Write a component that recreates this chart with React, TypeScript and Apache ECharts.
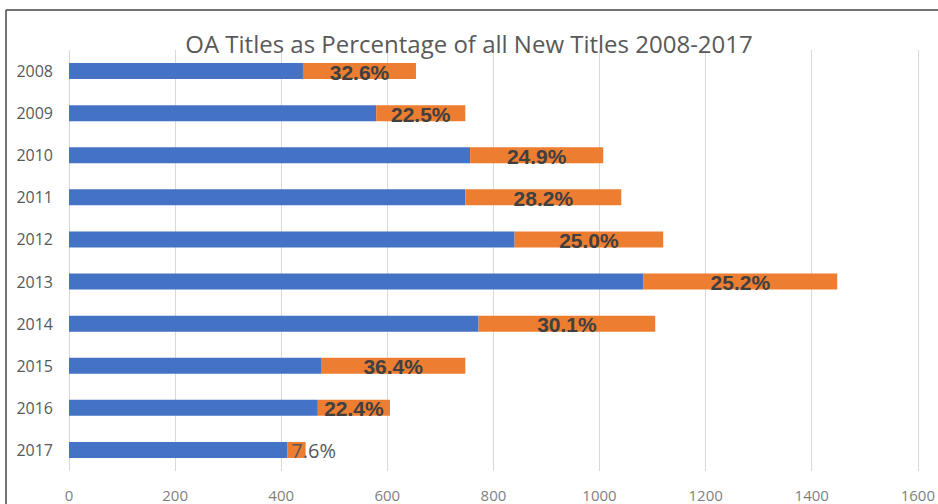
import React, { useEffect, useRef } from "react";
import * as echarts from "echarts";

const years = ["2008", "2009", "2010", "2011", "2012", "2013", "2014", "2015", "2016", "2017"];
const otherTitles = [441, 579, 756, 747, 840, 1083, 772, 475, 469, 412];
const oaTitles = [213, 168, 251, 294, 280, 365, 333, 272, 136, 34];
const oaShare = ["32.6%", "22.5%", "24.9%", "28.2%", "25.0%", "25.2%", "30.1%", "36.4%", "22.4%", "7.6%"];
const titleText = "OA Titles as Percentage of all New Titles 2008-2017";

export default function App() {
  const ref = useRef<HTMLDivElement>(null);
  useEffect(() => {
    if (!ref.current) return;
    const chart = echarts.init(ref.current, null, { renderer: "svg" });
    chart.setOption({
      animation: false,
      backgroundColor: "#ffffff",
      title: {
        text: titleText,
        left: "center",
        top: 26,
        textStyle: { fontFamily: "Open Sans", fontSize: 24, fontWeight: "normal", color: "#595959" },
      },
      grid: { left: 69, right: 18, top: 50, bottom: 33 },
      xAxis: {
        type: "value",
        min: 0,
        max: 1600,
        interval: 200,
        axisLine: { show: false },
        axisTick: { show: false },
        splitLine: { lineStyle: { color: "#d9d9d9", width: 1 } },
        axisLabel: {
          fontFamily: "Open Sans",
          fontSize: 15,
          color: "#7f7f7f",
          margin: 16,
          formatter: (v: number) => String(v),
        },
      },
      yAxis: {
        type: "category",
        data: years,
        inverse: true,
        axisLine: { show: false },
        axisTick: { show: false },
        axisLabel: { fontFamily: "Open Sans", fontSize: 16, color: "#595959", margin: 16 },
      },
      series: [
        {
          type: "bar",
          stack: "t",
          data: otherTitles,
          barWidth: 16,
          itemStyle: { color: "#4472C4" },
        },
        {
          type: "bar",
          stack: "t",
          barWidth: 16,
          data: oaTitles.map((v, i) =>
            i === oaTitles.length - 1
              ? { value: v, label: { offset: [17, 1], fontWeight: "normal", color: "#595959", fontFamily: "Open Sans", fontSize: 20 } }
              : v
          ),
          itemStyle: { color: "#ED7D31" },
          label: {
            show: true,
            position: "inside",
            formatter: (p: any) => oaShare[p.dataIndex],
            fontFamily: "Liberation Sans",
            fontWeight: "bold",
            fontSize: 21,
            color: "#404040",
            offset: [0, 1],
          },
        },
      ],
      graphic: [
        { type: "line", shape: { x1: 6, y1: 10, x2: 938, y2: 10 }, style: { stroke: "#444", lineWidth: 1.5 } },
        { type: "line", shape: { x1: 6, y1: 10, x2: 6, y2: 504 }, style: { stroke: "#444", lineWidth: 1.5 } },
      ],
    });
    return () => chart.dispose();
  }, []);
  return (
    <div style={{ position: "fixed", left: 0, top: 0, width: 938, height: 504 }}>
      <div ref={ref} style={{ width: 938, height: 504 }} />
    </div>
  );
}
